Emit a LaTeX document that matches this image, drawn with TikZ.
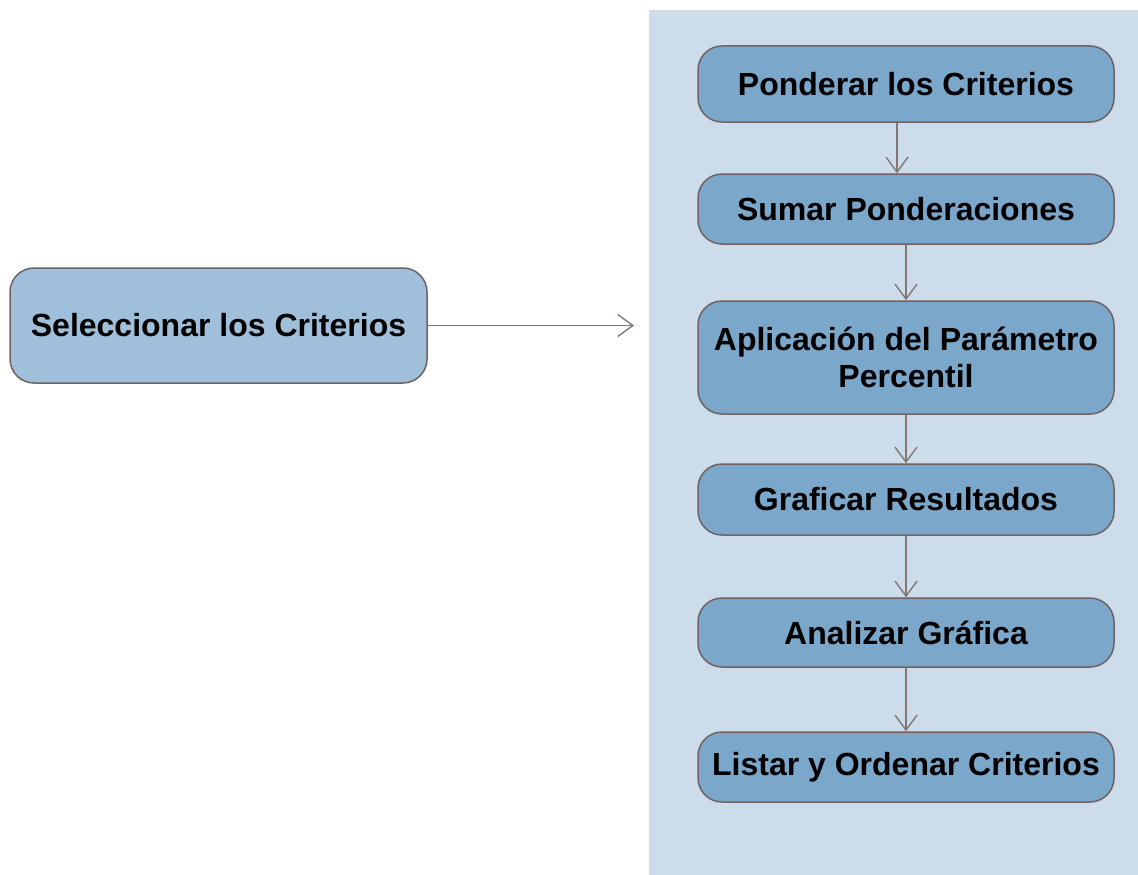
\documentclass[tikz,border=0pt]{standalone}
\usepackage{fontspec}
\setmainfont{Liberation Sans}
\usetikzlibrary{arrows.meta}
\definecolor{panelbg}{HTML}{CCDCEA}
\definecolor{stepfill}{HTML}{7BA7CB}
\definecolor{startfill}{HTML}{A0BFDA}
\definecolor{edgecol}{HTML}{6E6262}
\definecolor{linkcol}{HTML}{857676}
\begin{document}
\begin{tikzpicture}[x=1pt,y=-1pt,
  box/.style={draw=edgecol, line width=1.5pt, rounded corners=24pt,
    align=center, inner sep=0pt, font=\fontsize{32}{37}\selectfont\bfseries},
  stepbox/.style={box, fill=stepfill, minimum width=416pt},
  link/.style={draw=linkcol, line width=1.5pt,
    -{Straight Barb[length=15pt,width=22pt,line width=1.4pt]}}]
  \useasboundingbox (0,0) rectangle (1138,875);
  % shaded lane on the right
  \fill[panelbg] (649,10) rectangle (1138,875);

  \node[box, fill=startfill, minimum width=417pt, minimum height=115pt]
    (sel) at (218.5,325.5) {Seleccionar los Criterios};

  \node[stepbox, minimum height=76pt]  (pond) at (906,84)    {Ponderar los Criterios};
  \node[stepbox, minimum height=70pt]  (suma) at (906,209)   {Sumar Ponderaciones};
  \node[stepbox, minimum height=113pt] (apli) at (906,357.5) {Aplicación del Parámetro\\Percentil};
  \node[stepbox, minimum height=71pt]  (graf) at (906,499.5) {Graficar Resultados};
  \node[stepbox, minimum height=69pt]  (anal) at (906,632.5) {Analizar Gráfica};
  \node[stepbox, minimum height=70pt]  (list) at (906,767)   {Listar y Ordenar Criterios};

  \coordinate (lane) at (634,325.5);
  \draw[link] (sel.east) -- (lane);

  \draw[link] ([xshift=-9pt]pond.south) -- ([xshift=-9pt]suma.north);
  \draw[link] (suma.south) -- (apli.north);
  \draw[link] (apli.south) -- (graf.north);
  \draw[link] (graf.south) -- (anal.north);
  \draw[link] (anal.south) -- (list.north);
\end{tikzpicture}
\end{document}
